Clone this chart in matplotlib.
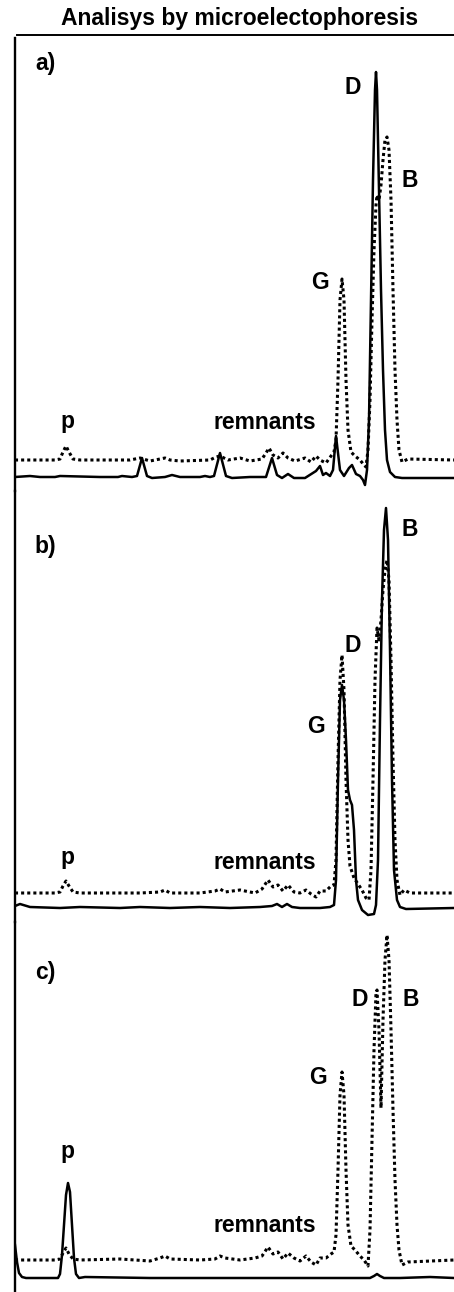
import matplotlib
matplotlib.use("Agg")
import matplotlib.pyplot as plt
from matplotlib.lines import Line2D

plt.rcParams["font.family"] = ["Liberation Sans", "DejaVu Sans"]
plt.rcParams["font.weight"] = "bold"

W, H = 454, 1292  # figure size in pixels

# traces: x = migration position, y = pixel row of the trace
# panel a) -- solid baseline row 477
sol_a_x = [15, 30, 40, 55, 60, 100, 118, 122, 132, 137, 142, 147, 152, 165, 172, 180, 200, 205, 210, 214,
           220, 226, 232, 250, 266, 272, 277, 282, 288, 294, 305, 316, 320, 323, 326, 330, 333, 336, 340,
           344, 349, 352, 356, 360, 363, 365, 367, 369, 371, 373, 375, 376, 377, 379, 381, 383, 385, 387,
           390, 395, 402, 454]
sol_a_y = [477, 476, 477, 477, 476, 477, 477, 476, 477, 476, 458, 476, 478, 477, 475, 477, 477, 476, 477, 476,
           453, 476, 478, 477, 477, 458, 475, 478, 474, 478, 478, 471, 466, 475, 473, 476, 470, 436, 470,
           476, 468, 465, 474, 476, 480, 485, 470, 420, 300, 180, 90, 72, 90, 190, 290, 370, 430, 460,
           472, 477, 478, 478]
dot_a_x = [15, 55, 60, 63, 66, 69, 73, 80, 130, 140, 150, 165, 170, 180, 210, 216, 220, 224, 228, 240, 250,
           262, 266, 269, 273, 278, 283, 288, 295, 305, 311, 316, 320, 326, 331, 334, 336, 338, 340, 342, 344,
           346, 348, 351, 355, 360, 364, 366, 368, 370, 372, 374, 376, 377, 379, 381, 383, 385, 387, 389, 391,
           393, 395, 397, 399, 402, 408, 454]
dot_a_y = [460, 460, 459, 452, 446, 452, 459, 460, 460, 458, 461, 458, 460, 461, 460, 457, 456, 458, 460, 458, 461,
           459, 453, 448, 455, 458, 453, 458, 461, 458, 462, 456, 460, 463, 456, 452, 440, 380, 300, 279, 300,
           380, 430, 452, 456, 460, 465, 467, 450, 400, 320, 250, 205, 195, 200, 185, 160, 140, 137, 150, 200,
           290, 370, 420, 450, 462, 459, 460]

# panel b) -- solid baseline row 908
sol_b_x = [15, 20, 30, 60, 80, 120, 140, 170, 200, 230, 260, 272, 277, 282, 287, 292, 300, 320, 330, 334,
           336, 338, 340, 342, 344, 346, 348, 350, 352, 354, 356, 358, 362, 368, 374, 376, 378, 380, 382, 384,
           386, 388, 390, 392, 394, 397, 400, 406, 454]
sol_b_y = [906, 904, 907, 908, 907, 908, 907, 908, 907, 908, 907, 906, 904, 907, 904, 907, 908, 908, 907, 905,
           880, 780, 700, 685, 700, 740, 790, 800, 805, 830, 880, 900, 910, 915, 914, 905, 860, 720, 600, 530,
           508, 540, 650, 780, 870, 900, 907, 909, 908]
dot_b_x = [15, 55, 60, 63, 66, 69, 73, 80, 140, 160, 165, 170, 200, 215, 220, 225, 240, 255, 262, 268, 273,
           278, 283, 288, 294, 300, 306, 311, 316, 320, 326, 331, 334, 336, 338, 340, 342, 344, 346, 348, 350,
           354, 358, 362, 366, 369, 371, 373, 375, 377, 379, 381, 383, 385, 387, 389, 391, 393, 395, 397, 400,
           404, 410, 454]
dot_b_y = [893, 893, 892, 886, 881, 886, 892, 893, 893, 892, 890, 893, 893, 891, 889, 892, 890, 893, 889, 880, 887,
           885, 891, 885, 892, 893, 890, 894, 897, 891, 891, 886, 885, 860, 760, 680, 655, 690, 780, 840, 866,
           878, 884, 890, 898, 900, 870, 780, 680, 628, 640, 620, 590, 570, 560, 580, 660, 760, 840, 880, 895,
           890, 893, 893]

# panel c) -- solid baseline row 1278
sol_c_x = [15, 17, 19, 22, 26, 40, 58, 60, 62, 64, 66, 68, 70, 72, 74, 76, 79, 85, 150, 250, 350, 370, 374,
           377, 380, 384, 400, 430, 454]
sol_c_y = [1245, 1262, 1273, 1277, 1278, 1278, 1278, 1274, 1255, 1225, 1195, 1183, 1192, 1225, 1258, 1274,
           1278, 1277, 1278, 1278, 1278, 1278, 1276, 1274, 1276, 1278, 1278, 1277, 1278]
dot_c_x = [15, 55, 60, 63, 66, 69, 73, 80, 120, 150, 160, 165, 170, 200, 215, 220, 225, 240, 255, 262, 268,
           273, 278, 283, 288, 294, 300, 306, 311, 316, 320, 326, 331, 334, 336, 338, 340, 342, 344, 346, 348,
           351, 355, 360, 364, 366, 368, 370, 372, 374, 376, 377, 379, 381, 383, 385, 387, 389, 391, 393, 395,
           397, 399, 402, 408, 454]
dot_c_y = [1260, 1260, 1259, 1253, 1248, 1254, 1259, 1260, 1259, 1261, 1258, 1256, 1259, 1260, 1259, 1256, 1258,
           1260, 1258, 1256, 1247, 1254, 1252, 1259, 1253, 1258, 1261, 1256, 1262, 1265, 1258, 1258, 1254, 1252,
           1235, 1170, 1095, 1072, 1095, 1170, 1225, 1246, 1250, 1256, 1260, 1263, 1266, 1230, 1140, 1050, 993,
           990, 1030, 1108, 1020, 960, 935, 960, 1030, 1110, 1180, 1225, 1250, 1265, 1262, 1260]

# peak labels: (text, x, row)
labels_a = [("a)", 45, 64), ("D", 353, 88), ("B", 410, 181), ("G", 320, 283), ("p", 67, 422), ("remnants", 265, 423)]
labels_b = [("b)", 45, 547), ("B", 410, 530), ("D", 353, 645), ("G", 316, 726), ("p", 67, 857), ("remnants", 265, 862)]
labels_c = [("c)", 45, 973), ("D", 360, 1000), ("B", 411, 1000), ("G", 318, 1078), ("p", 67, 1152), ("remnants", 265, 1226)]

panels = [
    (38, 491, sol_a_x, sol_a_y, dot_a_x, dot_a_y, labels_a),
    (491, 922, sol_b_x, sol_b_y, dot_b_x, dot_b_y, labels_b),
    (922, 1292, sol_c_x, sol_c_y, dot_c_x, dot_c_y, labels_c),
]

fig = plt.figure(figsize=(W / 100, H / 100), dpi=100)
fig.patch.set_facecolor("white")

x_left = 15
for top, bottom, sx, sy, dx, dy, labs in panels:
    ax = fig.add_axes([x_left / W, 1 - bottom / H, (W - x_left) / W, (bottom - top) / H])
    ax.plot(sx, sy, color="black", lw=1.8, solid_joinstyle="round")
    ax.plot(dx, dy, color="black", lw=2.2, ls=(0, (1, 1)))
    for txt, tx, ty in labs:
        ax.text(tx, ty, txt, ha="center", va="center", fontsize=16.5, fontweight="bold")
    ax.set_xlim(x_left, W)
    ax.set_ylim(bottom, top)
    for s in ["top", "right", "bottom"]:
        ax.spines[s].set_visible(False)
    ax.spines["left"].set_linewidth(1.7)
    ax.set_xticks([])
    ax.set_yticks([])
    ax.patch.set_alpha(0)

fig.text(240 / W, 1 - 18 / H, "Analisys by microelectophoresis", ha="center", va="center",
         fontsize=16.5, fontweight="bold")
fig.add_artist(Line2D([17 / W, 1], [1 - 35 / H, 1 - 35 / H], color="black", lw=1.4))

fig.savefig("out.png", dpi=100, facecolor="white")
